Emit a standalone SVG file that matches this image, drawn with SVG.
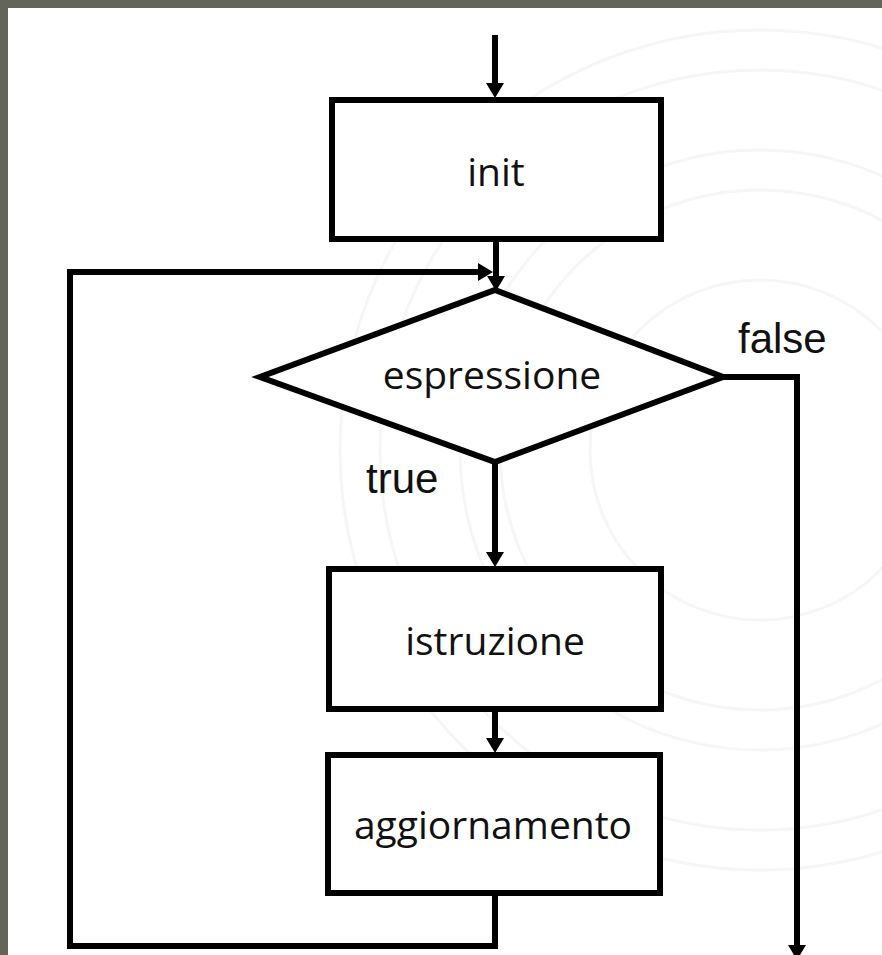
<svg xmlns="http://www.w3.org/2000/svg" width="882" height="955" viewBox="0 0 882 955">
  <defs>
    <marker id="ah" viewBox="0 0 15 18" refX="3" refY="9" markerWidth="15" markerHeight="18" markerUnits="userSpaceOnUse" orient="auto">
      <path d="M0,0 L15,9 L0,18 z" fill="#000"/>
    </marker>
    <style>
      .box { fill: #fff; stroke: #000; stroke-width: 6; stroke-linejoin: miter; }
      .dia { fill: #fff; stroke: #000; stroke-width: 6; stroke-linejoin: miter; }
      .lbl { font-family: "Open Sans", "Noto Sans", sans-serif; font-size: 39px; fill: #111; text-anchor: middle; }
      .edge { font-family: "Liberation Sans", Arial, sans-serif; font-size: 42px; fill: #111; }
      .con { fill: none; stroke: #000; stroke-width: 6; stroke-linejoin: miter; }
      .wm { fill: none; stroke: #f6f6f6; stroke-width: 3; }
    </style>
  </defs>
  <rect x="0" y="0" width="882" height="955" fill="#fff"/>
  <g id="watermark">
    <circle class="wm" cx="760" cy="450" r="420"/>
    <circle class="wm" cx="760" cy="450" r="380"/>
    <circle class="wm" cx="760" cy="450" r="300"/>
    <circle class="wm" cx="760" cy="450" r="260"/>
    <circle class="wm" cx="760" cy="450" r="170"/>
  </g>
  <g id="frame" fill="#63645a">
    <rect x="0" y="0" width="882" height="8"/>
    <rect x="0" y="0" width="8" height="955"/>
  </g>
  <g id="connectors">
    <path class="con" d="M495,35 V86" marker-end="url(#ah)"/>
    <path class="con" d="M496,240 V279" marker-end="url(#ah)"/>
    <path class="con" d="M495,893 V946 H70 V272 H481" marker-end="url(#ah)"/>
    <path class="con" d="M495,462 V555" marker-end="url(#ah)"/>
    <path class="con" d="M495,709 V741" marker-end="url(#ah)"/>
    <path class="con" d="M723,377 H797 V948" marker-end="url(#ah)"/>
  </g>
  <g id="init">
    <rect class="box" x="332" y="100" width="329" height="139"/>
    <text class="lbl" x="496" y="186">init</text>
  </g>
  <g id="espressione">
    <polygon class="dia" points="495,290 723,377 495,462 260,377"/>
    <text class="lbl" x="492" y="389">espressione</text>
  </g>
  <g id="istruzione">
    <rect class="box" x="329" y="569" width="332" height="140"/>
    <text class="lbl" x="495" y="655">istruzione</text>
  </g>
  <g id="aggiornamento">
    <rect class="box" x="328" y="755" width="332" height="138"/>
    <text class="lbl" x="493" y="839">aggiornamento</text>
  </g>
  <g id="labels">
    <text class="edge" x="738" y="353">false</text>
    <text class="edge" x="366" y="493">true</text>
  </g>
</svg>
